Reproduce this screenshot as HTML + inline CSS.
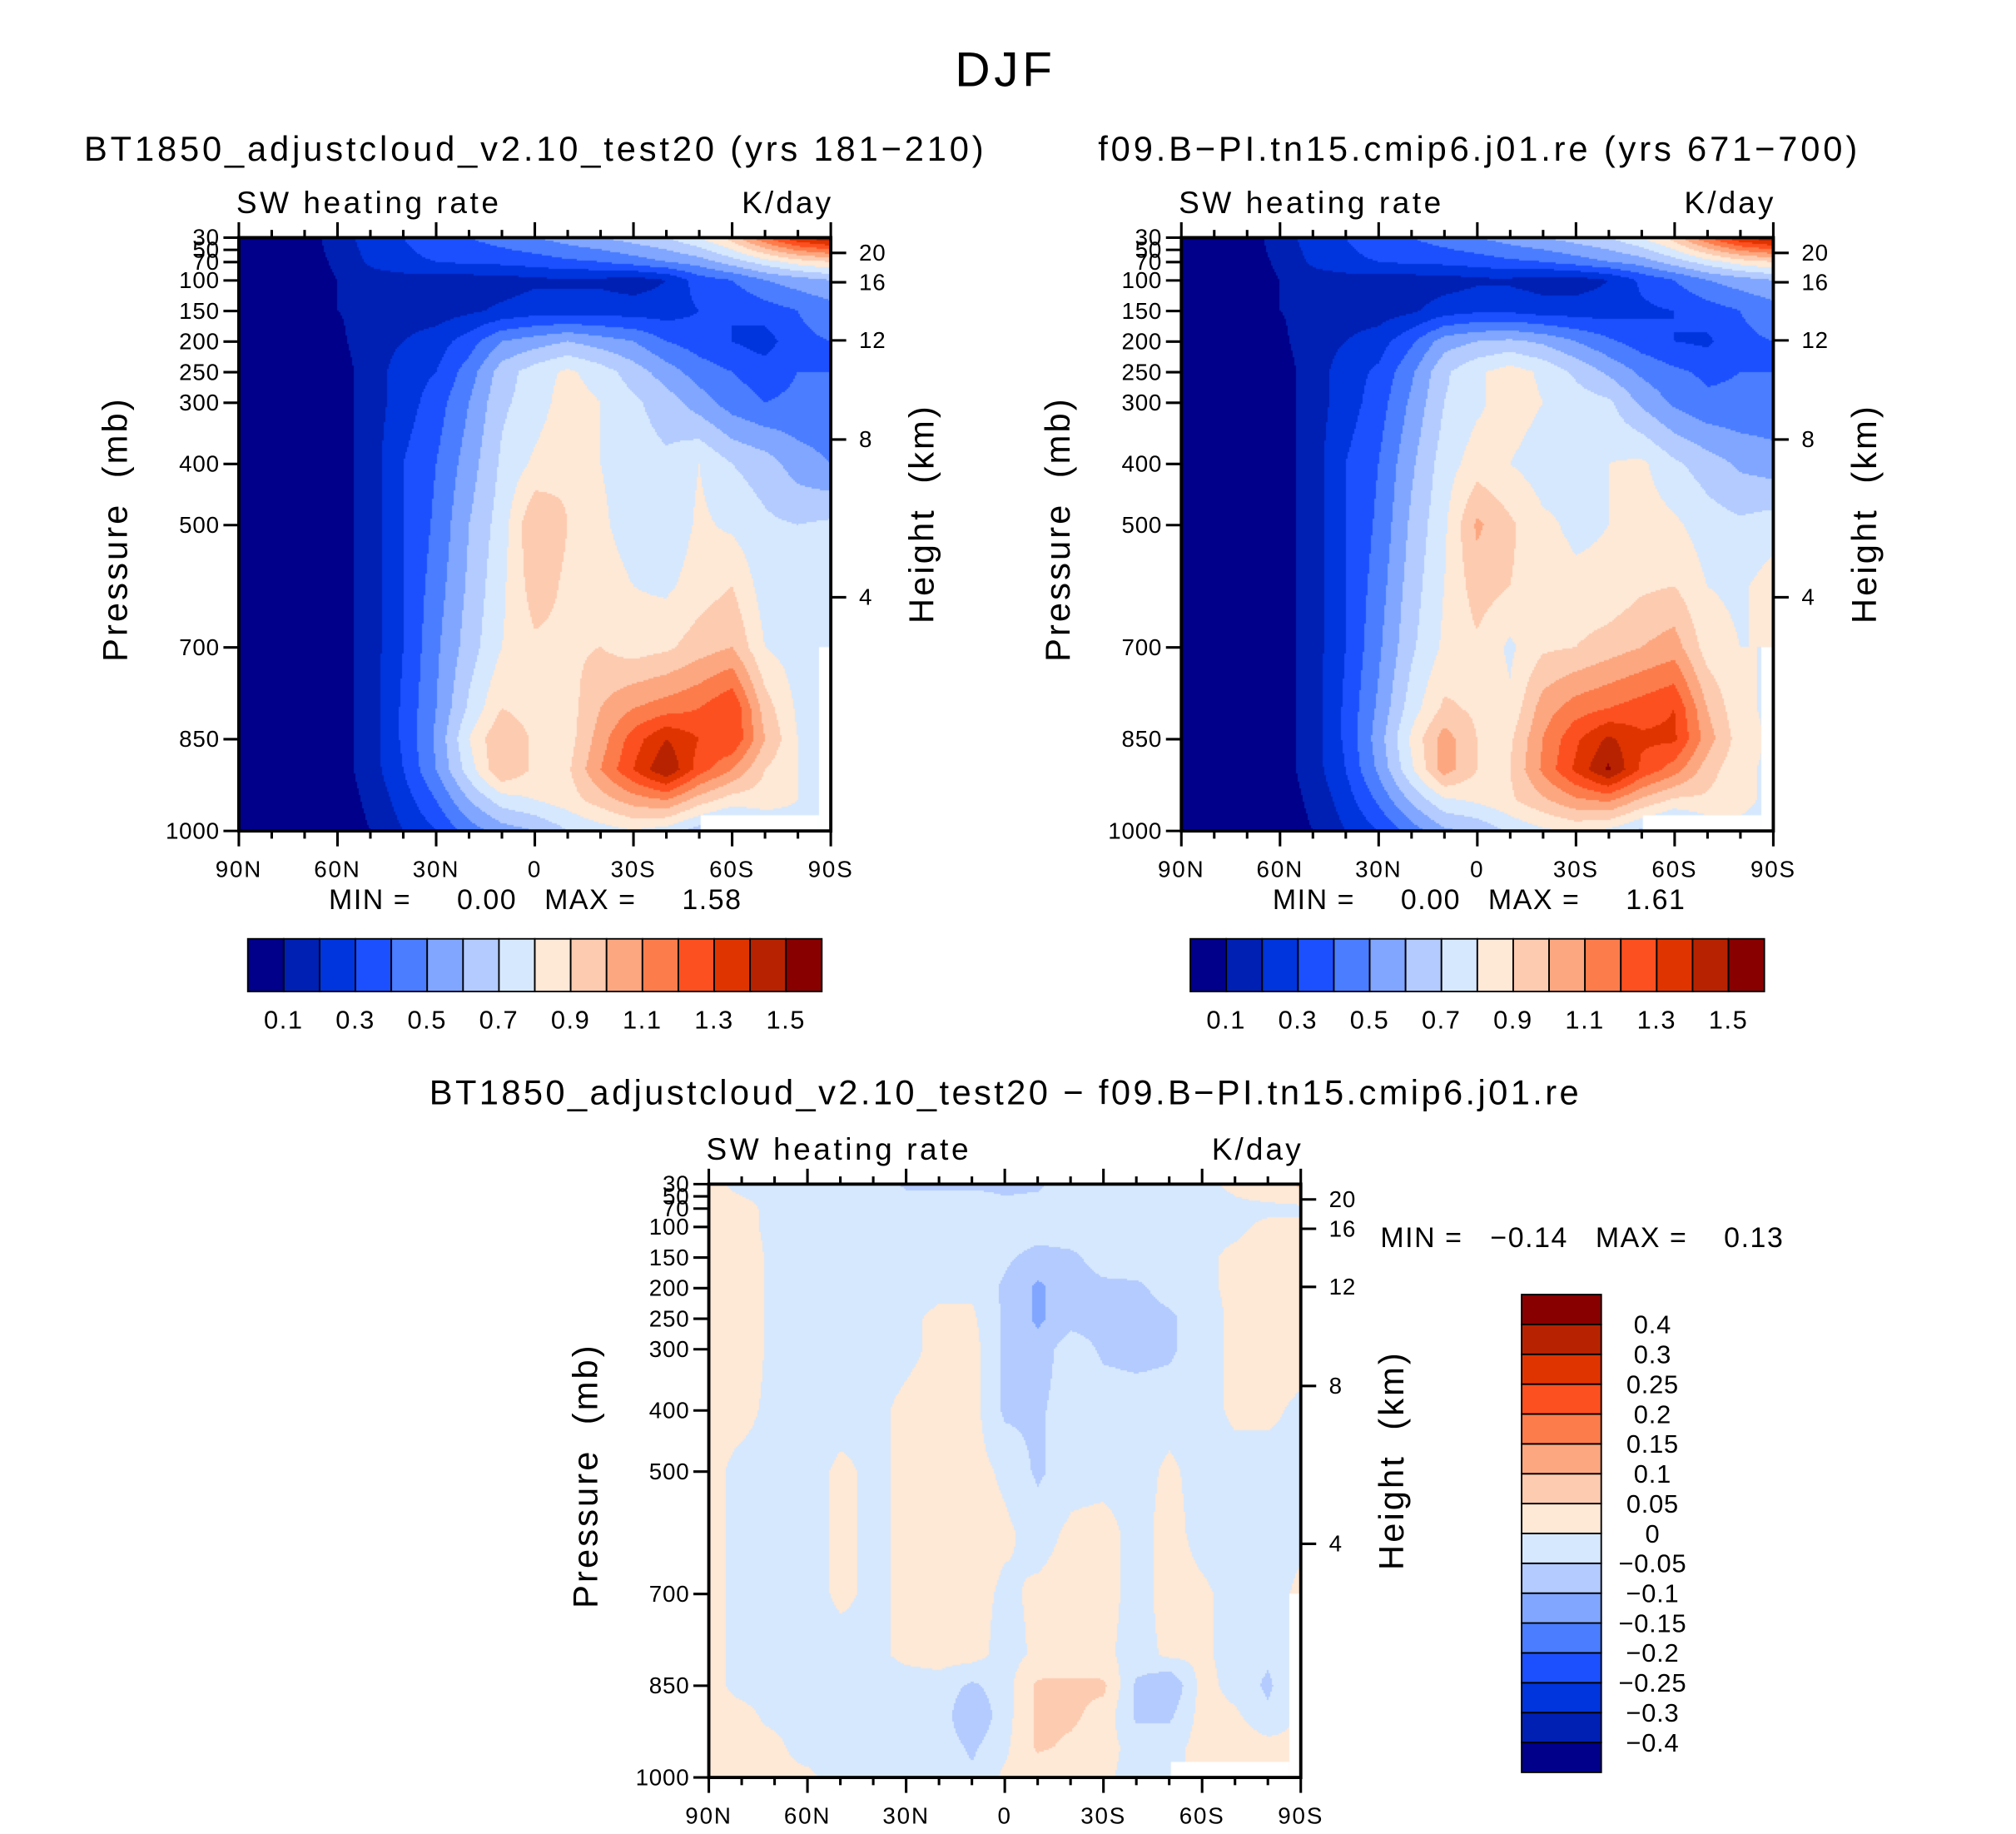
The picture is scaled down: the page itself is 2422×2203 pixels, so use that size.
<!DOCTYPE html>
<html><head><meta charset="utf-8">
<style>
html,body{margin:0;padding:0;background:#fff;}
#root{position:relative;width:2422px;height:2203px;overflow:hidden;background:#fff;}
canvas{position:absolute;}
svg{position:absolute;left:0;top:0;}
text{font-family:"Liberation Sans",sans-serif;fill:#000;white-space:pre;}
</style></head>
<body>
<div id="root">
<canvas id="c1"></canvas>
<canvas id="c2"></canvas>
<canvas id="c3"></canvas>
<svg id="svg" width="2422" height="2203" viewBox="0 0 1570 1428"></svg>
</div>
<script>
// ---- data ----
const pLevels = [30,70,100,150,200,250,300,400,500,600,700,800,850,900,950,1000];
const latLabels = ["90N","60N","30N","0","30S","60S","90S"];
const presTicks = [30,50,70,100,150,200,250,300,400,500,700,850,1000];
const heightTicks = [20,16,12,8,4];
const heightPres = [55,103,198,360,618];
const absLevels = [0.1,0.2,0.3,0.4,0.5,0.6,0.7,0.8,0.9,1.0,1.1,1.2,1.3,1.4,1.5];
const absLabels = ["0.1","0.3","0.5","0.7","0.9","1.1","1.3","1.5"];
const diffLevels = [-0.4,-0.3,-0.25,-0.2,-0.15,-0.1,-0.05,0,0.05,0.1,0.15,0.2,0.25,0.3,0.4];
const diffLabels = ["-0.4","-0.3","-0.25","-0.2","-0.15","-0.1","-0.05","0","0.05","0.1","0.15","0.2","0.25","0.3","0.4"];
const colors = ["#00008a","#0020b4","#0034dc","#1c50ff","#4a7dff","#80a6ff","#b3cbff","#d6e8fd","#fee8d6","#fdcbb0","#fca780","#fd7c4c","#fd5020","#e03400","#b72300","#880000"];
const minMax1 = ["0.00","1.58"];
const minMax2 = ["0.00","1.61"];
const minMax3 = ["-0.14","0.13"];

const field1 = [
[0.05,0.05,0.05,0.15,0.25,0.3,0.35,0.4,0.45,0.5,0.55,0.6,0.65,0.7,0.8,0.95,1.2,1.4,1.5],
[0.05,0.05,0.05,0.12,0.22,0.28,0.3,0.32,0.33,0.35,0.38,0.4,0.45,0.5,0.55,0.65,0.75,0.85,0.9],
[0.05,0.05,0.05,0.1,0.15,0.15,0.15,0.15,0.15,0.18,0.18,0.18,0.15,0.2,0.35,0.4,0.5,0.55,0.6],
[0.05,0.05,0.05,0.1,0.12,0.15,0.15,0.18,0.22,0.25,0.25,0.25,0.25,0.25,0.3,0.3,0.35,0.4,0.45],
[0.05,0.05,0.05,0.08,0.15,0.2,0.25,0.35,0.5,0.55,0.6,0.55,0.5,0.4,0.35,0.3,0.25,0.38,0.4],
[0.05,0.05,0.05,0.05,0.15,0.25,0.3,0.45,0.65,0.75,0.82,0.75,0.65,0.55,0.45,0.4,0.35,0.4,0.4],
[0.05,0.05,0.05,0.05,0.15,0.25,0.35,0.5,0.68,0.75,0.85,0.8,0.72,0.65,0.55,0.45,0.4,0.42,0.42],
[0.05,0.05,0.05,0.05,0.15,0.3,0.4,0.55,0.72,0.82,0.88,0.8,0.75,0.72,0.8,0.7,0.65,0.55,0.5],
[0.05,0.05,0.05,0.05,0.15,0.3,0.42,0.6,0.75,1.0,0.9,0.82,0.75,0.72,0.82,0.78,0.72,0.7,0.72],
[0.05,0.05,0.05,0.05,0.15,0.3,0.45,0.62,0.78,0.95,0.88,0.85,0.8,0.78,0.85,0.9,0.75,0.72,0.8],
[0.05,0.05,0.05,0.05,0.15,0.3,0.48,0.65,0.8,0.88,0.88,0.9,0.85,0.88,0.95,1.0,0.8,0.75,0.75],
[0.05,0.05,0.05,0.05,0.15,0.32,0.5,0.72,0.9,0.85,0.85,1.0,1.1,1.15,1.2,1.3,0.95,0.78,0.75],
[0.05,0.05,0.05,0.05,0.15,0.32,0.52,0.8,1.0,0.88,0.85,1.05,1.25,1.4,1.3,1.3,1.0,0.8,0.75],
[0.05,0.05,0.05,0.05,0.15,0.3,0.5,0.75,1.0,0.88,0.88,1.1,1.3,1.5,1.25,1.1,0.9,0.8,0.75],
[0.05,0.05,0.05,0.05,0.12,0.25,0.4,0.6,0.75,0.8,0.85,0.95,1.05,1.1,0.95,0.85,0.85,0.8,0.75],
[0.05,0.05,0.05,0.05,0.1,0.2,0.3,0.45,0.55,0.6,0.7,0.75,0.8,0.75,0.65,0.6,0.7,0.75,0.75]];

const field2 = [
[0.05,0.05,0.05,0.15,0.25,0.3,0.35,0.4,0.45,0.5,0.55,0.6,0.65,0.7,0.8,0.95,1.2,1.4,1.5],
[0.05,0.05,0.05,0.12,0.22,0.28,0.3,0.32,0.33,0.35,0.38,0.4,0.45,0.5,0.55,0.65,0.75,0.85,0.9],
[0.05,0.05,0.05,0.1,0.15,0.15,0.15,0.15,0.15,0.18,0.18,0.15,0.15,0.2,0.32,0.4,0.5,0.55,0.6],
[0.05,0.05,0.05,0.1,0.12,0.15,0.15,0.18,0.25,0.28,0.28,0.25,0.25,0.25,0.28,0.3,0.35,0.4,0.45],
[0.05,0.05,0.05,0.08,0.15,0.2,0.25,0.38,0.55,0.6,0.62,0.58,0.5,0.42,0.35,0.3,0.28,0.38,0.4],
[0.05,0.05,0.05,0.05,0.15,0.25,0.32,0.48,0.68,0.78,0.85,0.78,0.68,0.58,0.48,0.42,0.38,0.4,0.4],
[0.05,0.05,0.05,0.05,0.15,0.25,0.35,0.52,0.7,0.78,0.85,0.8,0.75,0.72,0.58,0.48,0.42,0.42,0.42],
[0.05,0.05,0.05,0.05,0.15,0.3,0.4,0.58,0.75,0.85,0.8,0.75,0.78,0.8,0.82,0.72,0.65,0.58,0.55],
[0.05,0.05,0.05,0.05,0.15,0.3,0.42,0.62,0.78,1.02,0.92,0.82,0.78,0.8,0.85,0.82,0.75,0.72,0.75],
[0.05,0.05,0.05,0.05,0.15,0.3,0.45,0.65,0.8,0.95,0.9,0.85,0.82,0.82,0.88,0.9,0.8,0.78,0.85],
[0.05,0.05,0.05,0.05,0.15,0.3,0.48,0.68,0.82,0.88,0.78,0.88,0.9,0.95,1.0,1.05,0.85,0.8,0.8],
[0.05,0.05,0.05,0.05,0.15,0.32,0.52,0.75,0.92,0.88,0.82,1.05,1.15,1.2,1.25,1.3,1.0,0.82,0.78],
[0.05,0.05,0.05,0.05,0.15,0.32,0.55,0.82,1.05,0.9,0.88,1.1,1.28,1.42,1.32,1.32,1.05,0.85,0.78],
[0.05,0.05,0.05,0.05,0.15,0.3,0.52,0.78,1.05,0.9,0.9,1.12,1.32,1.52,1.28,1.15,0.95,0.82,0.78],
[0.05,0.05,0.05,0.05,0.12,0.25,0.42,0.62,0.78,0.82,0.88,0.98,1.08,1.12,0.98,0.88,0.88,0.82,0.78],
[0.05,0.05,0.05,0.05,0.1,0.2,0.3,0.45,0.58,0.62,0.72,0.78,0.82,0.78,0.68,0.6,0.72,0.78,0.78]];

const field3 = [
[0.01,-0.01,-0.01,-0.01,-0.01,-0.02,-0.06,-0.06,-0.06,-0.06,-0.06,-0.02,-0.02,-0.02,-0.02,-0.01,0.01,0.03,0.06],
[0.01,0.01,-0.01,-0.01,-0.01,-0.02,-0.02,-0.02,-0.02,-0.04,-0.03,-0.02,-0.02,-0.02,-0.02,-0.02,-0.01,-0.01,-0.01],
[0.01,0.01,-0.01,-0.02,-0.02,-0.02,-0.02,-0.02,-0.02,-0.02,-0.02,-0.02,-0.02,-0.02,-0.02,-0.01,-0.01,0.01,0.01],
[0.01,0.02,-0.01,-0.02,-0.02,-0.02,-0.02,-0.02,-0.02,-0.04,-0.07,-0.06,-0.03,-0.02,-0.02,-0.01,0.01,0.02,0.03],
[0.01,0.02,-0.01,-0.02,-0.02,-0.02,-0.02,-0.01,-0.01,-0.06,-0.11,-0.07,-0.06,-0.06,-0.03,-0.01,0.01,0.02,0.02],
[0.01,0.02,-0.01,-0.02,-0.02,-0.02,-0.01,0.01,0.01,-0.06,-0.11,-0.07,-0.07,-0.07,-0.06,-0.02,0.01,0.02,0.02],
[0.01,0.02,-0.01,-0.02,-0.02,-0.02,-0.01,0.01,0.02,-0.06,-0.08,-0.02,-0.06,-0.07,-0.06,-0.02,0.01,0.02,0.02],
[0.01,0.01,-0.01,-0.02,-0.02,-0.01,0.01,0.02,0.02,-0.06,-0.06,-0.02,-0.02,-0.02,-0.02,-0.02,0.01,0.01,-0.01],
[0.01,-0.01,-0.01,-0.02,0.01,-0.01,0.01,0.02,0.02,-0.01,-0.06,-0.02,-0.02,-0.02,0.01,-0.02,-0.02,-0.02,-0.01],
[0.01,-0.01,-0.01,-0.02,0.01,-0.01,0.01,0.02,0.02,0.01,-0.02,0.01,0.02,-0.02,0.02,-0.02,-0.02,-0.02,-0.01],
[0.01,-0.01,-0.01,-0.02,0.01,-0.01,0.01,0.02,0.02,-0.01,0.01,0.02,0.02,-0.02,0.02,0.01,-0.02,-0.02,0.01],
[0.01,-0.01,-0.01,-0.02,-0.02,-0.01,0.01,0.02,0.02,-0.02,0.01,0.02,0.01,-0.02,0.01,0.01,-0.02,-0.04,0.01],
[0.01,-0.01,-0.01,-0.02,-0.02,-0.02,-0.02,-0.02,-0.06,-0.02,0.06,0.06,0.06,-0.06,-0.1,0.02,-0.02,-0.06,0.01],
[0.01,0.01,-0.01,-0.02,-0.02,-0.02,-0.02,-0.02,-0.1,-0.02,0.06,0.06,0.03,-0.06,-0.06,0.02,0.01,-0.04,0.01],
[0.01,0.01,0.01,-0.02,-0.02,-0.02,-0.02,-0.02,-0.06,-0.01,0.06,0.04,0.02,-0.02,-0.02,0.02,0.03,0.02,0.01],
[0.01,0.01,0.01,0.01,-0.02,-0.02,-0.02,-0.02,-0.04,0.01,0.01,0.01,0.01,-0.02,-0.02,0.02,0.03,0.03,0.01]];

// ---- rendering ----
const S = 2422/1570;
const NS = "http://www.w3.org/2000/svg";
const svg = document.getElementById('svg');
function el(tag, attrs, parent){const e=document.createElementNS(NS,tag);for(const k in attrs)e.setAttribute(k,attrs[k]);(parent||svg).appendChild(e);return e;}
function txt(x,y,s,size,anchor,name,extra,ls){const t=el('text',Object.assign({x:x,y:y,'font-size':size,'text-anchor':anchor||'start','letter-spacing':ls||0},extra||{}));t.textContent=s.replace(/-/g,'\u2212');


return t;}

function classOf(v, levels){let k=0;while(k<levels.length && v>=levels[k])k++;return k;}
function sample(field, fx, p){
  const nc=field[0].length; const cx=fx*(nc-1); let i=Math.min(nc-2,Math.floor(cx)); const tx=cx-i;
  let j=0; while(j<pLevels.length-2 && p>pLevels[j+1]) j++;
  const ty=Math.max(0,Math.min(1,(p-pLevels[j])/(pLevels[j+1]-pLevels[j])));
  const a=field[j][i]*(1-tx)+field[j][i+1]*tx, b=field[j+1][i]*(1-tx)+field[j+1][i+1]*tx;
  return a*(1-ty)+b*ty;
}

function panel(id, x0, y0, field, levels, titleName){
  const W=461, H=462, x1=x0+W, y1=y0+H;
  const xOf = f => x0 + f*W;
  const yOf = p => y0 + (p-30)/970*H;
  const pOf = y => 30 + (y-y0)/H*970;
  const cv=document.getElementById(id);
  cv.width=Math.round(W*S); cv.height=Math.round(H*S);
  cv.style.left=(x0*S)+'px'; cv.style.top=(y0*S)+'px';
  const ctx=cv.getContext('2d'); const step=2;
  for(let py=0;py<cv.height;py+=step){
    const p=pOf(y0+(py+step/2)/S);
    for(let px=0;px<cv.width;px+=step){
      const v=sample(field,(px+step/2)/cv.width,p);
      ctx.fillStyle=colors[classOf(v,levels)];
      ctx.fillRect(px,py,step,step);
    }
  }
  ctx.fillStyle='#fff';
  ctx.fillRect((xOf(0.78)-x0)*S,(yOf(975)-y0)*S,(xOf(0.98)-xOf(0.78))*S,(y1-yOf(975))*S);
  ctx.fillRect((xOf(0.98)-x0)*S,(yOf(700)-y0)*S,(x1-xOf(0.98))*S,(y1-yOf(700))*S);

  const g=el('g',{});
  
  
  el('rect',{x:x0,y:y0,width:W,height:H,fill:'none',stroke:'#000','stroke-width':2.5},g);
  for(let k=0;k<=18;k++){
    const x=xOf(k/18), major=k%3===0, L=major?12:6;
    el('line',{x1:x,x2:x,y1:y1,y2:y1+L,stroke:'#000','stroke-width':2},g);
    el('line',{x1:x,x2:x,y1:y0,y2:y0-L,stroke:'#000','stroke-width':2},g);
  }
  latLabels.forEach((s,k)=>{txt(xOf(k/6),y1+36,s,18,'middle','x-tick-label',null,1.2);});
  presTicks.forEach(p=>{
    const y=yOf(p);
    el('line',{x1:x0-12,x2:x0,y1:y,y2:y,stroke:'#000','stroke-width':2},g);
    txt(x0-15,y+6,String(p),18,'end','y-tick-label',null,0.5);
  });
  heightTicks.forEach((h,k)=>{
    const y=yOf(heightPres[k]);
    el('line',{x1:x1,x2:x1+12,y1:y,y2:y,stroke:'#000','stroke-width':2},g);
    txt(x1+22,y+6,String(h),18,'start','height-tick-label',null,0.5);
  });
  const cy=y0+H/2-4;
  txt(x0-87,cy,'Pressure  (mb)',27,'middle','y-axis-title',{transform:`rotate(-90 ${x0-87} ${cy})`},2);
  txt(x1+80,cy-12,'Height  (km)',27,'middle','right-axis-title',{transform:`rotate(-90 ${x1+80} ${cy-12})`},2);
  txt(x0-2,y0-19,'SW heating rate',24,'start','subtitle-left',null,2.3);
  txt(x1+2,y0-19,'K/day',24,'end','units-label',null,2);
}

function hbar(x0,y0,levels,labels){
  const w=447/16;
  colors.forEach((c,k)=>{const r=el('rect',{x:x0+k*w,y:y0,width:w,height:41,fill:c,stroke:'#000','stroke-width':1.2});
    
    });
  labels.forEach((s,k)=>txt(x0+(2*k+1)*w,y0+70,s,20,'middle','colorbar-label',null,1));
}

txt(783,67,'DJF',38,'middle','figure-title',null,3);
txt(417,125,'BT1850_adjustcloud_v2.10_test20 (yrs 181-210)',27,'middle','panel-title-test20',null,2.5);
txt(1152,125,'f09.B-PI.tn15.cmip6.j01.re (yrs 671-700)',27,'middle','panel-title-cmip6',null,2.5);
txt(783,860,'BT1850_adjustcloud_v2.10_test20 - f09.B-PI.tn15.cmip6.j01.re',27,'middle','panel-title-diff',null,2.2);

panel('c1',186,185,field1,absLevels,'panel1');
panel('c2',920,185,field2,absLevels,'panel2');
panel('c3',552,922,field3,diffLevels,'panel3');

txt(417,708,'MIN =     '+minMax1[0]+'   MAX =     '+minMax1[1],22,'middle','min-max-1',null,1);
txt(1152,708,'MIN =     '+minMax2[0]+'   MAX =     '+minMax2[1],22,'middle','min-max-2',null,1);
txt(1075,971,'MIN =   '+minMax3[0]+'   MAX =    '+minMax3[1],22,'start','min-max-3',null,1);

hbar(193,731,absLevels,absLabels);
hbar(927,731,absLevels,absLabels);

const vh=372/16;
colors.forEach((c,k)=>{const r=el('rect',{x:1185,y:1008+(15-k)*vh,width:62,height:vh,fill:c,stroke:'#000','stroke-width':1.2});
  
  });
diffLabels.forEach((s,k)=>txt(1287,1008+(15-k)*vh+7,s,20,'middle','diff-colorbar-label',null,0.5));
</script>
</body></html>
